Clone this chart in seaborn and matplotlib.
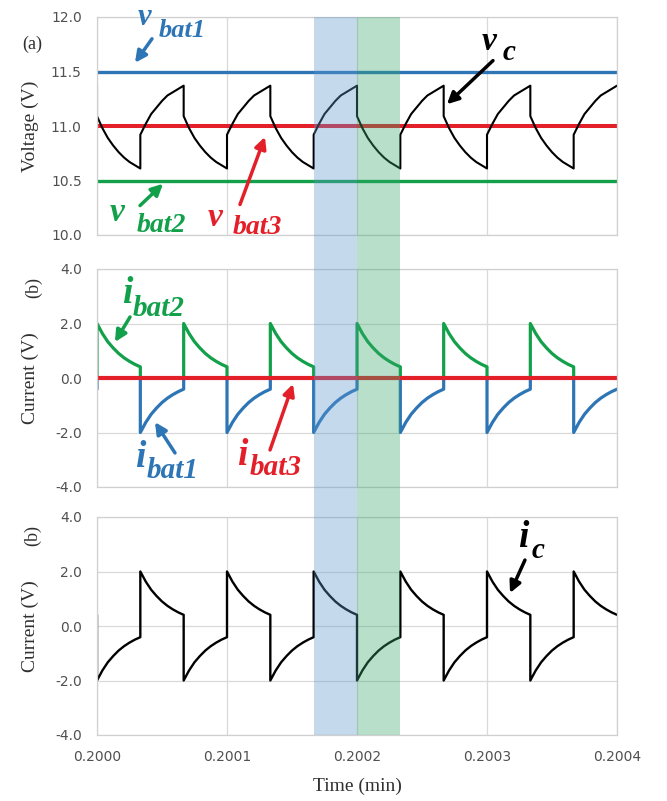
import numpy as np
import pandas as pd
import seaborn as sns
import matplotlib.pyplot as plt
from matplotlib.patches import Rectangle
from matplotlib.transforms import blended_transform_factory
from matplotlib.ticker import FormatStrFormatter, MultipleLocator

# switching instants (min), every half cycle
t_edges = [0.2000, 0.20003333, 0.20006667, 0.2001, 0.20013333, 0.20016667,
           0.2002, 0.20023333, 0.20026667, 0.2003, 0.20033333, 0.20036667, 0.2004]

# one half cycle, at 0, 1/8, ..., 1 of the half period
frac = [0, 0.125, 0.25, 0.375, 0.5, 0.625, 0.75, 0.875, 1.0]
i_decay = [2.0, 1.63, 1.33, 1.10, 0.90, 0.74, 0.61, 0.50, 0.41]
vc_fall = [11.09, 10.98, 10.89, 10.82, 10.76, 10.71, 10.67, 10.64, 10.61]
vc_rise = [10.92, 11.02, 11.11, 11.17, 11.23, 11.28, 11.31, 11.34, 11.37]

# battery voltages per half cycle (small ripple steps)
vbat1_level = [11.500, 11.494] * 6
vbat2_level = [10.500, 10.496] * 6
vbat3_level = [11.0, 11.0]
ibat3_level = [0.0, 0.0]
t_span = [0.2000, 0.2004]

xticks = [0.2000, 0.2001, 0.2002, 0.2003, 0.2004]
band_blue = [0.20016667, 0.2002]
band_green = [0.2002, 0.20023333]

c_blue = "#2E75B6"
c_green = "#12A04A"
c_red = "#E3202A"

# build the waveforms segment by segment
t_vc, vc = [t_edges[0]], [vc_rise[-1]]
t_i, ibat1, ibat2, ic = [t_edges[0]], [-i_decay[-1]], [0.0], [i_decay[-1]]
t_vb, vb1, vb2 = [], [], []
for k in range(12):
    t0, t1 = t_edges[k], t_edges[k + 1]
    ts = [t0 + f * (t1 - t0) for f in frac]
    t_i += ts
    t_vc += ts
    if k % 2 == 0:
        ibat2 += i_decay
        ibat1 += [0.0] * len(frac)
        ic += [-v for v in i_decay]
        vc += vc_fall
    else:
        ibat1 += [-v for v in i_decay]
        ibat2 += [0.0] * len(frac)
        ic += i_decay
        vc += vc_rise
    t_vb += [t0, t1]
    vb1 += [vbat1_level[k]] * 2
    vb2 += [vbat2_level[k]] * 2

sns.set_style("white")
plt.rcParams["font.family"] = ["DejaVu Sans"]

fig = plt.figure(figsize=(6.67, 8.01), dpi=100)
W, H = 667, 801
L, R = 97, 617
tops = [17, 269, 517]
axh = 218
axes = [fig.add_axes([L / W, 1 - (t + axh) / H, (R - L) / W, axh / H]) for t in tops]
ax_a, ax_b, ax_c = axes

line_kw = dict(estimator=None, sort=False, legend=False)

# (a) voltages
sns.lineplot(x=t_vb, y=vb1, ax=ax_a, color=c_blue, lw=2.4, **line_kw)
sns.lineplot(x=t_vb, y=vb2, ax=ax_a, color=c_green, lw=2.4, **line_kw)
sns.lineplot(x=t_span, y=vbat3_level, ax=ax_a, color=c_red, lw=2.9, **line_kw)
sns.lineplot(x=t_vc, y=vc, ax=ax_a, color="black", lw=1.5, **line_kw)
ax_a.set_ylim(10.0, 12.0)
ax_a.yaxis.set_major_locator(MultipleLocator(0.5))

# (b) battery currents
sns.lineplot(x=t_i, y=ibat1, ax=ax_b, color=c_blue, lw=2.3, **line_kw)
sns.lineplot(x=t_i, y=ibat2, ax=ax_b, color=c_green, lw=2.3, **line_kw)
sns.lineplot(x=t_span, y=ibat3_level, ax=ax_b, color=c_red, lw=3.0, **line_kw)

# (c) capacitor current
sns.lineplot(x=t_i, y=ic, ax=ax_c, color="black", lw=1.7, **line_kw)

for ax in (ax_b, ax_c):
    ax.set_ylim(-4.0, 4.0)
    ax.yaxis.set_major_locator(MultipleLocator(2.0))

for ax in axes:
    ax.set_facecolor("none")
    ax.set_xlim(t_span)
    ax.set_xticks(xticks)
    ax.yaxis.set_major_formatter(FormatStrFormatter("%.1f"))
    ax.xaxis.set_major_formatter(FormatStrFormatter("%.4f"))
    ax.grid(True, color="#d9d9d9", lw=0.9)
    ax.set_axisbelow(True)
    for s in ax.spines.values():
        s.set_color("#d0d0d0")
        s.set_linewidth(0.9)
    ax.tick_params(length=0, pad=11, labelsize=10, colors="#505050")
    ax.set_xlabel("")
    ax.set_ylabel(ax is ax_a and "Voltage (V)" or "Current (V)",
                  family="Liberation Serif", fontsize=14, color="#303030")
    ax.yaxis.set_label_coords(-0.112, 0.5)
for ax in (ax_a, ax_b):
    ax.tick_params(labelbottom=False)
ax_c.set_xlabel("Time (min)", family="Liberation Serif", fontsize=14, color="#303030")
ax_c.xaxis.set_label_coords(0.5, -0.195)

# shaded intervals across the three panels, drawn as a translucent overlay
trans = blended_transform_factory(ax_c.transData, fig.transFigure)
y0, y1 = 1 - (tops[2] + axh) / H, 1 - tops[0] / H
for (a, b), col in ((band_blue, "#5f97cf"), (band_green, "#3aa86e")):
    fig.add_artist(Rectangle((a, y0), b - a, y1 - y0, transform=trans,
                             facecolor=col, alpha=0.36, lw=0, zorder=5))

# panel tags
fig.text(32 / W, 1 - 44 / H, "(a)", family="Liberation Serif", fontsize=13,
         ha="center", va="center", color="#303030")
fig.text(34 / W, 1 - 288 / H, "(b)", family="Liberation Serif", fontsize=13,
         ha="center", va="center", rotation=90, color="#303030")
fig.text(33 / W, 1 - 535 / H, "(b)", family="Liberation Serif", fontsize=13,
         ha="center", va="center", rotation=90, color="#303030")

lab_kw = dict(family="Liberation Serif", style="italic", weight="bold",
              ha="left", va="baseline", clip_on=False)


def label(ax, main, sub, pm, ps, color, sm=24, ss=20):
    ax.text(pm[0], pm[1], main, fontsize=sm, color=color, **lab_kw)
    ax.text(ps[0], ps[1], sub, fontsize=ss, color=color, **lab_kw)


def arrow(ax, tail, head, color):
    ax.annotate("", xy=head, xytext=tail, annotation_clip=False,
                arrowprops=dict(arrowstyle="-|>", color=color, lw=2.5,
                                mutation_scale=17, shrinkA=0, shrinkB=0))


label(ax_a, "v", "bat1", (0.2000315, 11.927), (0.2000477, 11.817), c_blue, sm=22, ss=19)
arrow(ax_a, (0.2000423, 11.80), (0.2000292, 11.58), c_blue)
label(ax_a, "v", "c", (0.2002962, 11.699), (0.2003123, 11.607), "black", ss=21)
arrow(ax_a, (0.2003046, 11.60), (0.2002692, 11.20), "black")
label(ax_a, "v", "bat2", (0.2000100, 10.128), (0.2000308, 10.027), c_green)
arrow(ax_a, (0.2000331, 10.27), (0.2000508, 10.47), c_green)
label(ax_a, "v", "bat3", (0.2000854, 10.082), (0.2001046, 10.009), c_red)
arrow(ax_a, (0.2001100, 10.28), (0.2001292, 10.90), c_red)

label(ax_b, "i", "bat2", (0.2000192, 2.752), (0.2000277, 2.275), c_green, sm=27, ss=21)
arrow(ax_b, (0.2000254, 2.24), (0.2000138, 1.32), c_green)
label(ax_b, "i", "bat1", (0.2000292, -3.266), (0.2000385, -3.670), c_blue, sm=27, ss=21)
arrow(ax_b, (0.2000600, -2.75), (0.2000446, -1.62), c_blue)
label(ax_b, "i", "bat3", (0.2001077, -3.193), (0.2001177, -3.560), c_red, sm=27, ss=21)
arrow(ax_b, (0.2001331, -2.64), (0.2001508, -0.22), c_red)

label(ax_c, "i", "c", (0.2003238, 2.899), (0.2003346, 2.495), "black", sm=27, ss=21)
arrow(ax_c, (0.2003292, 2.42), (0.2003177, 1.21), "black")

fig.savefig("out.png", dpi=100)
